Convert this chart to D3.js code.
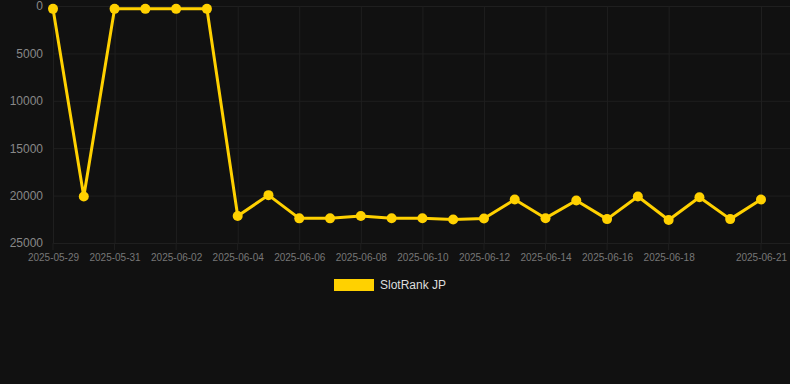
<!DOCTYPE html>
<html>
<head>
<meta charset="utf-8">
<script src="https://cdn.jsdelivr.net/npm/d3@7"></script>
<style>
  body { margin: 0; background: #111111; }
  svg { display: block; font-family: "Liberation Sans", Arial, sans-serif; }
</style>
</head>
<body>
<div id="chart"></div>
<script>
const dates = ["2025-05-29","2025-05-30","2025-05-31","2025-06-01","2025-06-02","2025-06-03",
  "2025-06-04","2025-06-05","2025-06-06","2025-06-07","2025-06-08","2025-06-09","2025-06-10",
  "2025-06-11","2025-06-12","2025-06-13","2025-06-14","2025-06-15","2025-06-16","2025-06-17",
  "2025-06-18","2025-06-19","2025-06-20","2025-06-21"];
const ranks = [300, 20100, 300, 300, 300, 300,
  22150, 19950, 22400, 22400, 22150, 22380, 22380,
  22520, 22420, 20420, 22380, 20520, 22480, 20100,
  22580, 20180, 22480, 20420];
const yTicks = [0, 5000, 10000, 15000, 20000, 25000];
const xTickLabels = ["2025-05-29","2025-05-31","2025-06-02","2025-06-04","2025-06-06","2025-06-08",
  "2025-06-10","2025-06-12","2025-06-14","2025-06-16","2025-06-18","2025-06-21"];
const seriesName = "SlotRank JP";

const width = 790, height = 384,
      margin = ({ top: 6, right: 0, bottom: 141, left: 53 });
const plotRight = 761;

const parse = d3.timeParse("%Y-%m-%d");
const data = dates.map((d, i) => ({ date: parse(d), value: ranks[i] }));

let svg = d3.select("#chart")
    .append("svg")
    .attr("width", width)
    .attr("height", height);

let x = d3.scaleTime()
    .domain(d3.extent(data, d => d.date))
    .range([margin.left, plotRight]);

let y = d3.scaleLinear()
    .domain([0, 25000])
    .range([margin.top, height - margin.bottom]);

const grid = "#1f1f1f";

// horizontal grid + y labels
svg.append("g")
    .attr("transform", `translate(${margin.left},0)`)
    .call(d3.axisLeft(y).tickValues(yTicks).tickFormat(d3.format("d"))
        .tickSize(-(width - margin.left)).tickPadding(10))
    .call(g => g.select(".domain").remove())
    .call(g => g.selectAll("line").attr("stroke", grid))
    .call(g => g.selectAll("text").attr("fill", "#888").attr("font-size", 12));

// vertical grid + x labels
const xTicks = xTickLabels.map(parse);
svg.append("g")
    .attr("transform", `translate(0,${height - margin.bottom})`)
    .call(d3.axisBottom(x).tickValues(xTicks).tickFormat(d3.timeFormat("%Y-%m-%d"))
        .tickSize(-(height - margin.bottom - margin.top)).tickPadding(11))
    .call(g => g.select(".domain").remove())
    .call(g => g.selectAll("line").attr("stroke", grid))
    .call(g => g.selectAll("text").attr("fill", "#777").attr("font-size", 10));

// small tick marks below axis
svg.append("g")
    .selectAll("line")
    .data(xTicks)
    .join("line")
    .attr("x1", d => x(d)).attr("x2", d => x(d))
    .attr("y1", height - margin.bottom).attr("y2", height - margin.bottom + 7)
    .attr("stroke", grid);

const gold = "#FFD100";

svg.append("path")
    .datum(data)
    .attr("fill", "none")
    .attr("stroke", gold)
    .attr("stroke-width", 3)
    .attr("stroke-linejoin", "round")
    .attr("d", d3.line().x(d => x(d.date)).y(d => y(d.value)));

svg.append("g")
    .selectAll("circle")
    .data(data)
    .join("circle")
    .attr("cx", d => x(d.date))
    .attr("cy", d => y(d.value))
    .attr("r", 5)
    .attr("fill", gold);

// legend
let legend = svg.append("g");
legend.append("rect")
    .attr("x", 334).attr("y", 279)
    .attr("width", 40).attr("height", 12)
    .attr("fill", gold);
legend.append("text")
    .attr("x", 380).attr("y", 289)
    .attr("fill", "#dddddd")
    .attr("font-size", 12)
    .text(seriesName);
</script>
</body>
</html>
